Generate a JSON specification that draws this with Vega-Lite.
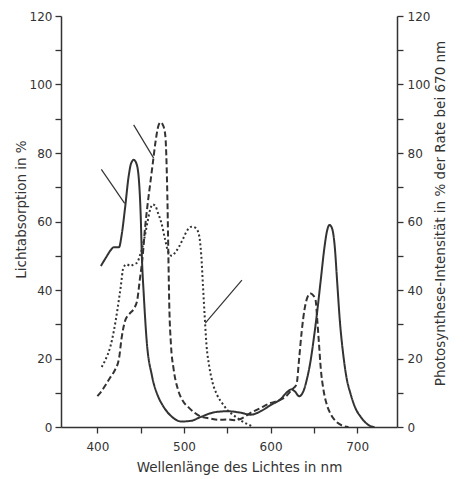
{
 "$schema": "https://vega.github.io/schema/vega-lite/v6.json",
 "width": 336,
 "height": 411,
 "autosize": "none",
 "padding": {"left": 61, "top": 16, "right": 78, "bottom": 52},
 "background": "white",
 "config": {
  "view": {"stroke": null},
  "axis": {"labelFont": "DejaVu Sans", "titleFont": "DejaVu Sans", "labelFontSize": 12, "titleFontSize": 13.5, "titleFontWeight": "normal", "labelColor": "#333", "titleColor": "#333", "domainColor": "#333", "tickColor": "#333", "domainWidth": 1.5, "tickWidth": 1.3, "tickSize": 6, "grid": false}
 },
 "data": {"values": [
  {"s":"solid","nm":404,"v":47},{"s":"solid","nm":410,"v":49.5},{"s":"solid","nm":415,"v":51.5},{"s":"solid","nm":419,"v":52.5},{"s":"solid","nm":425,"v":52.5},{"s":"solid","nm":428,"v":56},{"s":"solid","nm":432,"v":64},{"s":"solid","nm":436,"v":73},{"s":"solid","nm":439,"v":77},{"s":"solid","nm":442,"v":78},{"s":"solid","nm":445,"v":77},{"s":"solid","nm":448,"v":72},{"s":"solid","nm":450,"v":62},{"s":"solid","nm":451.5,"v":49},{"s":"solid","nm":453.5,"v":39},{"s":"solid","nm":457,"v":25},{"s":"solid","nm":463,"v":15},{"s":"solid","nm":470,"v":9},{"s":"solid","nm":475,"v":6.5},{"s":"solid","nm":486,"v":3},{"s":"solid","nm":497,"v":1.6},{"s":"solid","nm":508,"v":1.8},{"s":"solid","nm":520,"v":3},{"s":"solid","nm":535,"v":4.3},{"s":"solid","nm":550,"v":4.6},{"s":"solid","nm":565,"v":4.2},{"s":"solid","nm":577,"v":3.6},{"s":"solid","nm":590,"v":4.8},{"s":"solid","nm":600,"v":6.4},{"s":"solid","nm":611,"v":8},{"s":"solid","nm":620,"v":10.4},{"s":"solid","nm":624,"v":11},{"s":"solid","nm":628,"v":10.4},{"s":"solid","nm":633,"v":9},{"s":"solid","nm":638,"v":10.5},{"s":"solid","nm":642,"v":14},{"s":"solid","nm":646,"v":19},{"s":"solid","nm":650,"v":26},{"s":"solid","nm":654,"v":34},{"s":"solid","nm":658,"v":43},{"s":"solid","nm":662,"v":52},{"s":"solid","nm":665,"v":57},{"s":"solid","nm":668,"v":59},{"s":"solid","nm":671,"v":58},{"s":"solid","nm":674,"v":53},{"s":"solid","nm":677,"v":42},{"s":"solid","nm":680,"v":31},{"s":"solid","nm":684,"v":21},{"s":"solid","nm":688,"v":14},{"s":"solid","nm":692,"v":10},{"s":"solid","nm":698,"v":5.5},{"s":"solid","nm":704,"v":3},{"s":"solid","nm":710,"v":1.2},{"s":"solid","nm":716,"v":0.2},{"s":"solid","nm":720,"v":0},
  {"s":"dashed","nm":400,"v":9},{"s":"dashed","nm":405,"v":10.5},{"s":"dashed","nm":410,"v":12.5},{"s":"dashed","nm":415,"v":14.5},{"s":"dashed","nm":420,"v":16.5},{"s":"dashed","nm":425,"v":20},{"s":"dashed","nm":428,"v":26},{"s":"dashed","nm":432,"v":31},{"s":"dashed","nm":437,"v":33},{"s":"dashed","nm":442,"v":34.5},{"s":"dashed","nm":446,"v":37},{"s":"dashed","nm":449,"v":43},{"s":"dashed","nm":452,"v":49},{"s":"dashed","nm":455,"v":58},{"s":"dashed","nm":458,"v":65},{"s":"dashed","nm":461,"v":71},{"s":"dashed","nm":464,"v":77},{"s":"dashed","nm":467,"v":83},{"s":"dashed","nm":470,"v":87.5},{"s":"dashed","nm":473,"v":89},{"s":"dashed","nm":476,"v":88},{"s":"dashed","nm":478.5,"v":85},{"s":"dashed","nm":480,"v":76},{"s":"dashed","nm":481,"v":65},{"s":"dashed","nm":482,"v":50},{"s":"dashed","nm":483,"v":36},{"s":"dashed","nm":485,"v":24},{"s":"dashed","nm":488,"v":17},{"s":"dashed","nm":493,"v":11},{"s":"dashed","nm":499,"v":7.5},{"s":"dashed","nm":505,"v":5.8},{"s":"dashed","nm":512,"v":4.2},{"s":"dashed","nm":520,"v":3},{"s":"dashed","nm":530,"v":2.5},{"s":"dashed","nm":540,"v":2.1},{"s":"dashed","nm":550,"v":2.2},{"s":"dashed","nm":558,"v":2},{"s":"dashed","nm":566,"v":2.4},{"s":"dashed","nm":576,"v":4},{"s":"dashed","nm":588,"v":5.5},{"s":"dashed","nm":600,"v":7},{"s":"dashed","nm":610,"v":7.8},{"s":"dashed","nm":618,"v":9},{"s":"dashed","nm":625,"v":11},{"s":"dashed","nm":630,"v":12.5},{"s":"dashed","nm":633,"v":20},{"s":"dashed","nm":636,"v":28},{"s":"dashed","nm":639,"v":34},{"s":"dashed","nm":642,"v":37.5},{"s":"dashed","nm":646,"v":39},{"s":"dashed","nm":649,"v":38.5},{"s":"dashed","nm":652,"v":37},{"s":"dashed","nm":654,"v":31},{"s":"dashed","nm":656,"v":24},{"s":"dashed","nm":658,"v":17},{"s":"dashed","nm":661,"v":11},{"s":"dashed","nm":665,"v":6.5},{"s":"dashed","nm":670,"v":3.5},{"s":"dashed","nm":676,"v":1.5},{"s":"dashed","nm":684,"v":0.3},{"s":"dashed","nm":690,"v":0},
  {"s":"dotted","nm":405,"v":17.5},{"s":"dotted","nm":410,"v":20},{"s":"dotted","nm":415,"v":23.5},{"s":"dotted","nm":419,"v":28},{"s":"dotted","nm":423,"v":34},{"s":"dotted","nm":427,"v":41},{"s":"dotted","nm":430,"v":46.5},{"s":"dotted","nm":434,"v":47.5},{"s":"dotted","nm":438,"v":47},{"s":"dotted","nm":442,"v":47.5},{"s":"dotted","nm":446,"v":48},{"s":"dotted","nm":449,"v":50},{"s":"dotted","nm":452,"v":52.5},{"s":"dotted","nm":455,"v":56},{"s":"dotted","nm":458,"v":60},{"s":"dotted","nm":461,"v":63.5},{"s":"dotted","nm":464,"v":65},{"s":"dotted","nm":467,"v":64.5},{"s":"dotted","nm":470,"v":62.5},{"s":"dotted","nm":474,"v":59.5},{"s":"dotted","nm":478,"v":55},{"s":"dotted","nm":482,"v":51},{"s":"dotted","nm":486,"v":50},{"s":"dotted","nm":490,"v":51},{"s":"dotted","nm":494,"v":52.5},{"s":"dotted","nm":499,"v":55},{"s":"dotted","nm":504,"v":57.5},{"s":"dotted","nm":509,"v":58.5},{"s":"dotted","nm":513,"v":58.2},{"s":"dotted","nm":517,"v":56.5},{"s":"dotted","nm":520,"v":50},{"s":"dotted","nm":522,"v":41},{"s":"dotted","nm":524,"v":32},{"s":"dotted","nm":526,"v":24},{"s":"dotted","nm":529,"v":18},{"s":"dotted","nm":533,"v":13},{"s":"dotted","nm":538,"v":9.5},{"s":"dotted","nm":544,"v":7},{"s":"dotted","nm":550,"v":5},{"s":"dotted","nm":557,"v":3.5},{"s":"dotted","nm":565,"v":2},{"s":"dotted","nm":572,"v":1},{"s":"dotted","nm":580,"v":0.1},
  {"s":"p1","nm":404.6,"v":75.2},{"s":"p1","nm":431.5,"v":65.3},
  {"s":"p2","nm":441.9,"v":88.2},{"s":"p2","nm":465,"v":78.5},
  {"s":"p3","nm":524.6,"v":30.3},{"s":"p3","nm":566.9,"v":42.9}
 ]},
 "encoding": {
  "x": {"field": "nm", "type": "quantitative", "scale": {"domain": [358, 746], "nice": false, "zero": false},
   "axis": {"values": [400,450,500,550,600,650,700], "labelExpr": "datum.value % 100 === 0 ? datum.label : ''", "title": "Wellenlänge des Lichtes in nm", "labelPadding": 8, "titleBaseline": "middle", "titleX": 178, "titleY": 40}}
 },
 "layer": [
  {
   "transform": [{"filter": {"field": "s", "oneOf": ["solid", "dashed", "dotted"]}}],
   "mark": {"type": "line", "interpolate": "monotone", "strokeWidth": 2, "color": "#333"},
   "encoding": {
    "y": {"field": "v", "type": "quantitative", "scale": {"domain": [0, 120], "nice": false},
     "axis": {"orient": "left", "values": [0,10,20,30,40,50,60,70,80,90,100,110,120], "labelExpr": "datum.value % 20 === 0 ? datum.label : ''", "title": "Lichtabsorption in %", "labelPadding": 3, "titleAngle": 270, "titleBaseline": "middle", "titleX": -40, "titleY": 193}},
    "strokeDash": {"field": "s", "type": "nominal", "scale": {"domain": ["solid", "dashed", "dotted"], "range": [[1, 0], [6, 3], [2, 2.5]]}, "legend": null}
   }
  },
  {
   "transform": [{"filter": {"field": "s", "oneOf": ["p1", "p2", "p3"]}}],
   "mark": {"type": "line", "strokeWidth": 1.2, "color": "#333"},
   "encoding": {
    "y": {"field": "v", "type": "quantitative", "scale": {"domain": [0, 120], "nice": false},
     "axis": {"orient": "right", "values": [0,10,20,30,40,50,60,70,80,90,100,110,120], "labelExpr": "datum.value % 20 === 0 ? datum.label : ''", "title": "Photosynthese-Intensität in % der Rate bei 670 nm", "labelPadding": 4, "titleAngle": 270, "titleBaseline": "middle", "titleX": 43, "titleY": 197}},
    "detail": {"field": "s", "type": "nominal"}
   }
  }
 ],
 "resolve": {"axis": {"y": "independent"}}
}
